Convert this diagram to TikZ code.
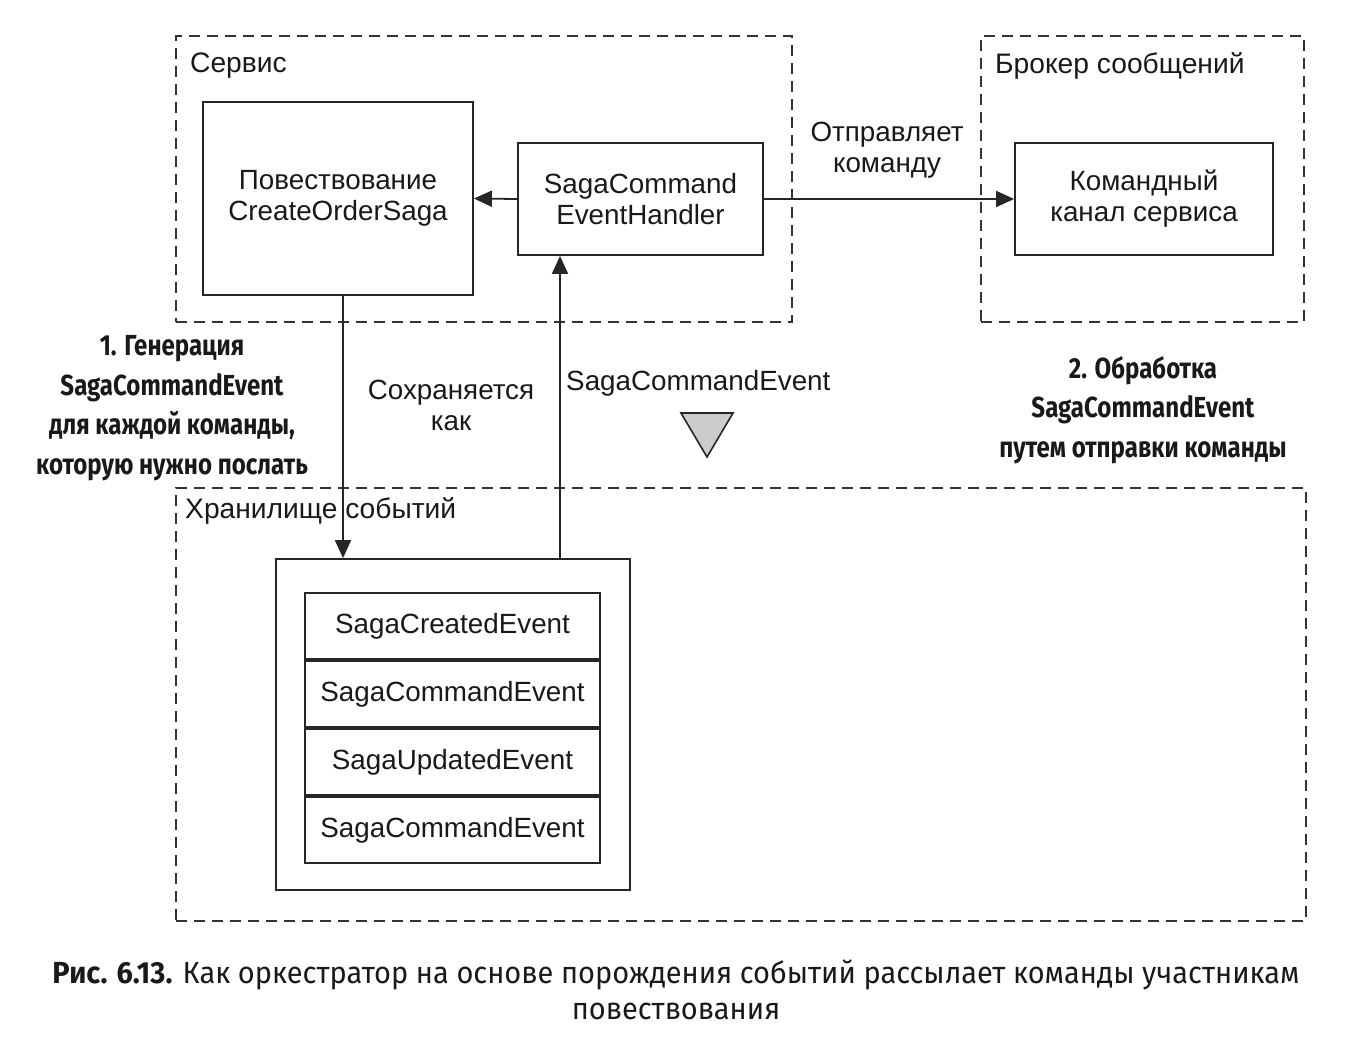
\documentclass[tikz,border=0pt]{standalone}
\usepackage{fontspec}
\setmainfont{Liberation Sans}
\newfontfamily\narrowfont[FakeStretch=0.83]{Fira Sans}
\newfontfamily\capfont[FakeStretch=0.95]{Fira Sans}
\usetikzlibrary{arrows.meta}
\begin{document}
\begin{tikzpicture}[x=1pt,y=-1pt,
  txt/.style={font=\fontsize{27.8}{31}\selectfont, align=center, inner sep=0pt},
  box/.style={draw=black!85, line width=1.8pt, fill=white, txt},
  zone/.style={draw=black!80, line width=1.6pt, dashed, dash pattern=on 11pt off 7pt},
  zlabel/.style={font=\fontsize{28.2}{30}\selectfont, anchor=west, inner sep=0pt},
  note/.style={font=\narrowfont\bfseries\fontsize{29}{39.5}\selectfont, align=center, inner sep=0pt},
  arr/.style={line width=1.8pt, draw=black!85, -{Triangle[length=18pt,width=16pt]}},
  every node/.append style={text=black!90}]
\useasboundingbox (0,0) rectangle (1364,1044);

% dashed areas
\node[zone, minimum width=616pt, minimum height=286pt] (svc) at (484,179) {};
\node[zone, minimum width=323pt, minimum height=286pt] (brk) at (1142.5,179) {};
\node[zone, minimum width=1130pt, minimum height=433pt] (es) at (741,704.5) {};
\node[zlabel] (svcl) at (190,66) {Сервис};
\node[zlabel] (brkl) at (995,66) {Брокер сообщений};
\node[zlabel] (esl) at (185,511) {Хранилище событий};

% boxes
\node[box, minimum width=270pt, minimum height=193pt] (saga) at (338,198.5) {Повествование\\CreateOrderSaga};
\node[box, minimum width=245pt, minimum height=112pt] (hdl) at (640.5,199) {SagaCommand\\EventHandler};
\node[box, minimum width=258pt, minimum height=112pt] (chan) at (1144,199) {Командный\\канал сервиса};

% event store with rows
\node[box, minimum width=354pt, minimum height=331pt] (store) at (453,724.5) {};
\node[box, minimum width=295pt, minimum height=66.25pt] (r1) at (452.5,626) {SagaCreatedEvent};
\node[box, minimum width=295pt, minimum height=66.25pt, anchor=north] (r2) at (r1.south) {SagaCommandEvent};
\node[box, minimum width=295pt, minimum height=66.25pt, anchor=north] (r3) at (r2.south) {SagaUpdatedEvent};
\node[box, minimum width=295pt, minimum height=66.25pt, anchor=north] (r4) at (r3.south) {SagaCommandEvent};

% connectors
\coordinate (dx) at (343,0);
\coordinate (ux) at (560,0);
\draw[arr] (hdl.west) -- (saga.east);
\draw[arr] (hdl.east) -- (chan.west);
\draw[arr] (saga.south -| dx) -- (store.north -| dx);
\draw[arr] (store.north -| ux) -- (hdl.south -| ux);

% labels
\node[txt] (send) at (887,150) {Отправляет\\команду};
\node[txt] (kept) at (451,405) {Сохраняется\\как};
\node[txt, anchor=west] (sce) at (566,383) {SagaCommandEvent};
\draw[line width=1.6pt, draw=black!85, fill=black!20] (681,413) coordinate (t1) -- (733,413) coordinate (t2) -- (707,457) coordinate (t3) -- cycle;

\node[note] (n1) at (172,408) {1. Генерация\\SagaCommandEvent\\для каждой команды,\\которую нужно послать};
\node[note] (n2) at (1143,410) {2. Обработка\\SagaCommandEvent\\путем отправки команды};

% caption
\node[font=\capfont\fontsize{30.5}{36}\selectfont, align=center, inner sep=0pt] (cap) at (676,990)
  {{\bfseries Рис. 6.13.} Как оркестратор на основе порождения событий рассылает команды участникам\\повествования};
\end{tikzpicture}
\end{document}
